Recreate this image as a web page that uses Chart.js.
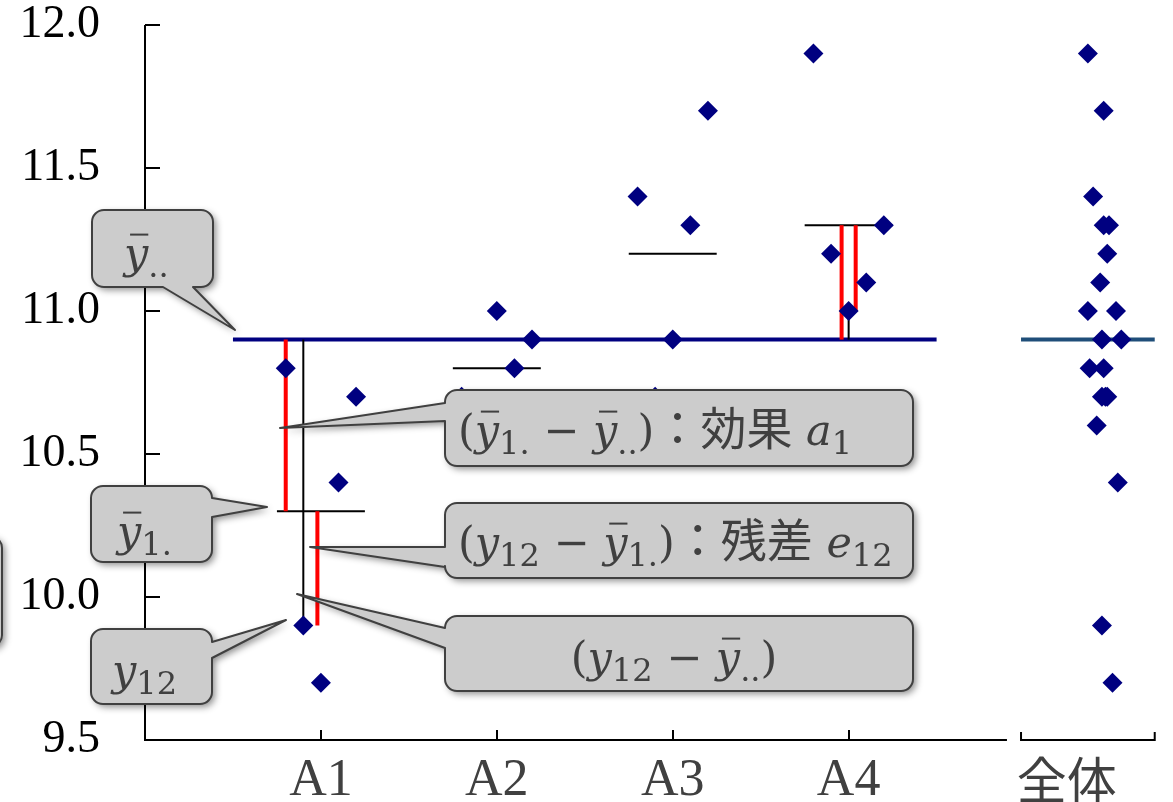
<!DOCTYPE html>
<html>
<head>
<meta charset="utf-8">
<script src="https://cdn.jsdelivr.net/npm/chart.js@4/dist/chart.umd.min.js"></script>
<style>
  html, body { margin: 0; padding: 0; background: #fff; overflow: hidden; }
  canvas { display: block; }
</style>
</head>
<body>
<canvas id="c" width="1173" height="802"></canvas>
<script>
// ---- data ---------------------------------------------------------------
const groupLabels  = ['A1', 'A2', 'A3', 'A4'];
const overallLabel = '全体';
const yTickValues  = [9.5, 10.0, 10.5, 11.0, 11.5, 12.0];

// within-group horizontal spread of the five observations
const jitter   = [-0.2, -0.1, 0, 0.1, 0.2];
const valuesA1 = [10.8, 9.9, 9.7, 10.4, 10.7];
const valuesA2 = [10.7, 10.6, 11.0, 10.8, 10.9];
const valuesA3 = [11.4, 10.7, 10.9, 11.3, 11.7];
const valuesA4 = [11.9, 11.2, 11.0, 11.1, 11.3];

const groupMeans = [10.3, 10.8, 11.2, 11.3];
const grandMean  = 10.9;

// pooled column (all 20 observations)
const overallValues = [11.9, 11.7, 11.4, 11.3, 11.3, 11.2, 11.1, 11.0, 11.0, 10.9,
                       10.9, 10.8, 10.8, 10.7, 10.7, 10.7, 10.6, 10.4, 9.9, 9.7];
const overallX      = [5.36, 5.45, 5.39, 5.45, 5.48, 5.47, 5.43, 5.36, 5.52, 5.44,
                       5.55, 5.37, 5.45, 5.44, 5.47, 5.46, 5.41, 5.53, 5.44, 5.50];

// decomposition of one observation in A1 (y12 = 9.9) and one in A4 (y43 = 11.0)
const decompGroups   = [0, 3];
const decompObs      = [1, 2];
const effectLineX    = [0.80, 3.96];
const residualLineX  = [0.98, 4.04];
const totalLineX     = [0.90, 4.00];

// ---- chart layout constants ----------------------------------------------
const X_MAX = 5.77;
const MEAN_HALF = 0.25;
const GRAND_SPAN = [0.5, 4.5];
const POOLED_SPAN = [4.98, 5.74];
const AXIS_END = 4.9;
const xTickValues = [1, 2, 3, 4, 5.24];
const AREA = { left: 145, top: 25, right: 1160, bottom: 740 };

const groups = [valuesA1, valuesA2, valuesA3, valuesA4];
const points = [];
groups.forEach((vals, g) => vals.forEach((v, i) => points.push({ x: g + 1 + jitter[i], y: v })));
const pooled = overallValues.map((v, i) => ({ x: overallX[i], y: v }));

function seg(x0, y0, x1, y1, color, width, order) {
  return {
    data: [{ x: x0, y: y0 }, { x: x1, y: y1 }],
    showLine: true, borderColor: color, borderWidth: width,
    pointRadius: 0, pointHoverRadius: 0, order: order, clip: false
  };
}

const datasets = [];
// observations (on top of every line)
datasets.push({ data: points, pointStyle: 'rectRot', pointRadius: 10, pointHoverRadius: 10,
  backgroundColor: '#000080', borderWidth: 0, showLine: false, order: 0 });
datasets.push({ data: pooled, pointStyle: 'rectRot', pointRadius: 10, pointHoverRadius: 10,
  backgroundColor: '#000080', borderWidth: 0, showLine: false, order: 0 });
// grand mean
datasets.push(seg(GRAND_SPAN[0], grandMean, GRAND_SPAN[1], grandMean, '#000080', 4, 3));
datasets.push(seg(POOLED_SPAN[0], grandMean, POOLED_SPAN[1], grandMean, '#1F4E79', 4, 3));
// group means
groupMeans.forEach((m, g) => datasets.push(seg(g + 1 - MEAN_HALF, m, g + 1 + MEAN_HALF, m, '#000', 2, 2)));
// effect / residual / total deviation bars
decompGroups.forEach((g, k) => {
  const obs = groups[g][decompObs[k]];
  datasets.push(seg(totalLineX[k], grandMean, totalLineX[k], obs, '#000', 2, 2));
  datasets.push(seg(effectLineX[k], grandMean, effectLineX[k], groupMeans[g], '#FF0000', 4, 1));
  datasets.push(seg(residualLineX[k], groupMeans[g], residualLineX[k], obs, '#FF0000', 4, 1));
});

// ---- callouts -------------------------------------------------------------
const MATH = '"DejaVu Serif", serif';
const CJK = '"Noto Sans CJK JP", sans-serif';
const TXT = 43;

function fontFor(kind, size) {
  if (kind === 'c') return `${Math.round(size * 1.08)}px ${CJK}`;
  if (kind === 'i' || kind === 'ib') return `italic ${size}px ${MATH}`;
  if (kind === 's') return `${Math.round(size * 0.74)}px ${MATH}`;
  return `${size}px ${MATH}`;
}
function measureParts(ctx, parts, size) {
  let w = 0;
  for (const [t, k] of parts) { ctx.font = fontFor(k, size); w += ctx.measureText(t).width; }
  return w;
}
function drawParts(ctx, parts, x, base, size) {
  ctx.textBaseline = 'alphabetic';
  ctx.textAlign = 'left';
  for (const [t, k] of parts) {
    ctx.font = fontFor(k, size);
    const w = ctx.measureText(t).width;
    const yb = k === 's' ? base + size * 0.2 : base;
    ctx.fillText(t, x, yb);
    if (k === 'ib') ctx.fillRect(x + w * 0.25, base - size * 0.8, w * 0.75, 2);
    x += w;
  }
}

const callouts = [
  { box: [92, 210, 121, 77], side: 'bottom', base: [193, 163], tip: [235, 330],
    parts: [['y', 'ib'], ['..', 's']], tx: 124, ty: 268 },
  { box: [91, 486, 121, 76], side: 'right', base: [498, 517], tip: [267, 507],
    parts: [['y', 'ib'], ['1.', 's']], tx: 117, ty: 546 },
  { box: [91, 629, 121, 75], side: 'right', base: [642, 658], tip: [286, 620],
    parts: [['y', 'i'], ['12', 's']], tx: 112, ty: 685 },
  { box: [445, 390, 468, 76], side: 'left', base: [421, 403], tip: [280, 428],
    parts: [['(', 'r'], ['y', 'ib'], ['1.', 's'], [' − ', 'r'], ['y', 'ib'], ['..', 's'], [')', 'r'],
            ['：効果', 'c'], [' ', 'r'], ['a', 'i'], ['1', 's']], tx: 458, ty: 445 },
  { box: [445, 503, 468, 75], side: 'left', base: [567, 547], tip: [310, 547],
    parts: [['(', 'r'], ['y', 'i'], ['12', 's'], [' − ', 'r'], ['y', 'ib'], ['1.', 's'], [')', 'r'],
            ['：残差', 'c'], [' ', 'r'], ['e', 'i'], ['12', 's']], tx: 458, ty: 557 },
  { box: [445, 616, 468, 75], side: 'left', base: [648, 628], tip: [297, 594],
    parts: [['(', 'r'], ['y', 'i'], ['12', 's'], [' − ', 'r'], ['y', 'ib'], ['..', 's'], [')', 'r']],
    center: 674, ty: 672 },
  // box that runs off the left edge
  { box: [-130, 536, 132, 111], side: null, parts: [] }
];

function calloutPath(ctx, c) {
  const [x, y, w, h] = c.box, r = 12;
  ctx.beginPath();
  ctx.moveTo(x + r, y);
  ctx.lineTo(x + w - r, y);
  ctx.arcTo(x + w, y, x + w, y + r, r);
  if (c.side === 'right') {
    ctx.lineTo(x + w, c.base[0]); ctx.lineTo(c.tip[0], c.tip[1]); ctx.lineTo(x + w, c.base[1]);
  }
  ctx.lineTo(x + w, y + h - r);
  ctx.arcTo(x + w, y + h, x + w - r, y + h, r);
  if (c.side === 'bottom') {
    ctx.lineTo(c.base[0], y + h); ctx.lineTo(c.tip[0], c.tip[1]); ctx.lineTo(c.base[1], y + h);
  }
  ctx.lineTo(x + r, y + h);
  ctx.arcTo(x, y + h, x, y + h - r, r);
  if (c.side === 'left') {
    ctx.lineTo(x, c.base[0]); ctx.lineTo(c.tip[0], c.tip[1]); ctx.lineTo(x, c.base[1]);
  }
  ctx.lineTo(x, y + r);
  ctx.arcTo(x, y, x + r, y, r);
  ctx.closePath();
}

const decor = {
  id: 'decor',
  beforeDatasetsDraw(chart) {
    const { ctx, scales: { x, y } } = chart;
    ctx.save();
    ctx.strokeStyle = '#000';
    ctx.lineWidth = 2;
    const x0 = x.getPixelForValue(0), yTop = y.getPixelForValue(12.0), yBot = y.getPixelForValue(9.5);
    // y axis with inward ticks
    ctx.beginPath();
    ctx.moveTo(x0, yTop); ctx.lineTo(x0, yBot);
    yTickValues.forEach(v => { const py = Math.round(y.getPixelForValue(v)); ctx.moveTo(x0, py); ctx.lineTo(x0 + 15, py); });
    // x axis with upward ticks at the groups
    ctx.moveTo(x0 - 1, yBot); ctx.lineTo(x.getPixelForValue(AXIS_END), yBot);
    groupLabels.forEach((_, g) => { const px = Math.round(x.getPixelForValue(g + 1)); ctx.moveTo(px, yBot); ctx.lineTo(px, yBot - 10); });
    ctx.stroke();
    // bracket under the pooled column
    const b0 = x.getPixelForValue(POOLED_SPAN[0]), b1 = x.getPixelForValue(POOLED_SPAN[1]);
    ctx.beginPath();
    ctx.moveTo(b0, yBot - 8); ctx.lineTo(b0, yBot); ctx.lineTo(b1, yBot); ctx.lineTo(b1, yBot - 8);
    ctx.stroke();
    ctx.restore();
  },
  afterDraw(chart) {
    const { ctx } = chart;
    callouts.forEach(c => {
      ctx.save();
      calloutPath(ctx, c);
      ctx.shadowColor = 'rgba(0,0,0,0.45)';
      ctx.shadowBlur = 7;
      ctx.shadowOffsetX = 3;
      ctx.shadowOffsetY = 3;
      ctx.fillStyle = '#CCCCCC';
      ctx.fill();
      ctx.shadowColor = 'transparent';
      ctx.lineWidth = 2;
      ctx.lineJoin = 'round';
      ctx.strokeStyle = '#404040';
      ctx.stroke();
      if (c.parts.length) {
        ctx.fillStyle = '#404040';
        let tx = c.tx;
        if (c.center !== undefined) tx = c.center - measureParts(ctx, c.parts, TXT) / 2;
        drawParts(ctx, c.parts, tx, c.ty, TXT);
      }
      ctx.restore();
    });
  }
};

const xLabels = [...groupLabels, overallLabel];

const chart = new Chart(document.getElementById('c'), {
  type: 'scatter',
  data: { datasets },
  options: {
    responsive: false,
    animation: false,
    devicePixelRatio: 1,
    layout: { padding: { top: 25, right: 13, bottom: 0, left: 0 } },
    plugins: { legend: { display: false }, tooltip: { enabled: false } },
    scales: {
      x: {
        type: 'linear', min: 0, max: X_MAX,
        grid: { display: false, drawTicks: false }, border: { display: false },
        afterBuildTicks: (s) => { s.ticks = xTickValues.map(v => ({ value: v })); },
        afterFit: (s) => { s.height = 62; s.paddingLeft = 0; s.paddingRight = 0; },
        ticks: {
          autoSkip: false, maxRotation: 0, padding: 10, color: '#404040',
          callback: (v, i) => xLabels[i],
          font: (ctx) => ctx.index === 4
            ? { family: '"Noto Sans CJK JP", sans-serif', size: 50 }
            : { family: '"Liberation Serif", serif', size: 52 }
        }
      },
      y: {
        min: 9.5, max: 12.0,
        grid: { display: false, drawTicks: false }, border: { display: false },
        afterBuildTicks: (s) => { s.ticks = yTickValues.map(v => ({ value: v })); },
        afterFit: (s) => { s.width = 145; s.paddingTop = 0; s.paddingBottom = 0; },
        ticks: {
          padding: 45, color: '#000',
          callback: (v) => v.toFixed(1),
          font: { family: '"Liberation Serif", serif', size: 46 }
        }
      }
    }
  },
  plugins: [decor]
});

// pin the plot area to its intended rectangle
for (let k = 0; k < 3; k++) {
  const a = chart.chartArea, p = chart.options.layout.padding;
  const d = [AREA.left - a.left, AREA.top - a.top, a.right - AREA.right, a.bottom - AREA.bottom];
  if (d.every(v => Math.abs(v) < 0.5)) break;
  p.left += d[0]; p.top += d[1]; p.right += d[2]; p.bottom += d[3];
  chart.update('none');
}
</script>
</body>
</html>
